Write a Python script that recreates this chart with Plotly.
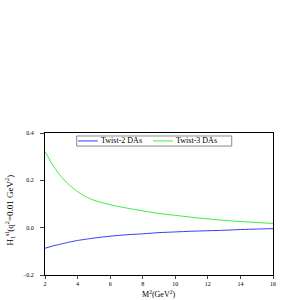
import plotly.graph_objects as go

m2 = [2, 2.5, 3, 3.5, 4, 4.5, 5, 6, 7, 8, 9, 10, 11, 12, 13, 14, 15, 16]
twist2 = [-0.087, -0.077, -0.069, -0.061, -0.054, -0.049, -0.044, -0.036, -0.030, -0.026, -0.021,
          -0.018, -0.015, -0.013, -0.011, -0.008, -0.006, -0.004]
twist3 = [0.322, 0.262, 0.215, 0.180, 0.152, 0.131, 0.116, 0.097, 0.083, 0.071, 0.060,
          0.052, 0.044, 0.037, 0.031, 0.026, 0.022, 0.018]
names = ["Twist-2 DAs", "Twist-3 DAs"]
colors = ["#3a3aff", "#3cee3c"]

font = "Liberation Serif, Times New Roman, serif"
fig = go.Figure()
for y, n, c in zip([twist2, twist3], names, colors):
    fig.add_trace(go.Scatter(x=m2, y=y, mode="lines", name=n, showlegend=False,
                             line=dict(color=c, width=1, shape="spline", smoothing=0.8)))

# manual compact legend (paper coords of the plot area)
fig.add_shape(type="rect", xref="paper", yref="paper", x0=0.139, x1=0.819, y0=0.908, y1=0.979,
              line=dict(color="#888888", width=1), fillcolor="white", layer="above")
leg = [(0.145, 0.232, 0.241), (0.474, 0.561, 0.570)]
for (lx0, lx1, tx), n, c in zip(leg, names, colors):
    fig.add_shape(type="line", xref="paper", yref="paper", x0=lx0, x1=lx1, y0=0.944, y1=0.944,
                  line=dict(color=c, width=1), layer="above")
    fig.add_annotation(xref="paper", yref="paper", x=tx, y=0.944, text=n, showarrow=False,
                       xanchor="left", yanchor="middle", font=dict(family=font, size=8), borderpad=0)

fig.add_annotation(xref="paper", yref="paper", x=0.5, y=-0.135, text="M<sup>2</sup>(GeV<sup>2</sup>)",
                   showarrow=False, xanchor="center", yanchor="middle", font=dict(family=font, size=8))
fig.add_annotation(xref="paper", yref="paper", x=-0.154, y=0.46, textangle=-90,
                   text="H<sub>1</sub><sup>sl</sup>(q<sup>2</sup>=0.01 GeV<sup>2</sup>)",
                   showarrow=False, xanchor="center", yanchor="middle", font=dict(family=font, size=9))

fig.update_layout(
    width=300, height=300,
    margin=dict(l=45, r=27, t=133, b=25, pad=0),
    paper_bgcolor="white", plot_bgcolor="white",
    font=dict(family=font, size=7, color="black"),
    showlegend=False,
)
fig.update_xaxes(range=[2, 16], tickvals=[2, 4, 6, 8, 10, 12, 14, 16],
                 showgrid=False, zeroline=False, showline=True, linecolor="black",
                 linewidth=1, mirror=True, ticks="outside", ticklen=3,
                 tickfont=dict(size=6, family=font), automargin=False)
fig.update_yaxes(range=[-0.2, 0.4], tickvals=[-0.2, 0.0, 0.2, 0.4], tickformat=".1f",
                 showgrid=False, zeroline=False, showline=True, linecolor="black",
                 linewidth=1, mirror=True, ticks="outside", ticklen=4, ticklabelstandoff=5,
                 tickfont=dict(size=6, family=font), automargin=False)
fig.write_html("out.html", config={"displayModeBar": False},
               post_script="document.body.style.margin='0';document.body.style.overflow='hidden';")
